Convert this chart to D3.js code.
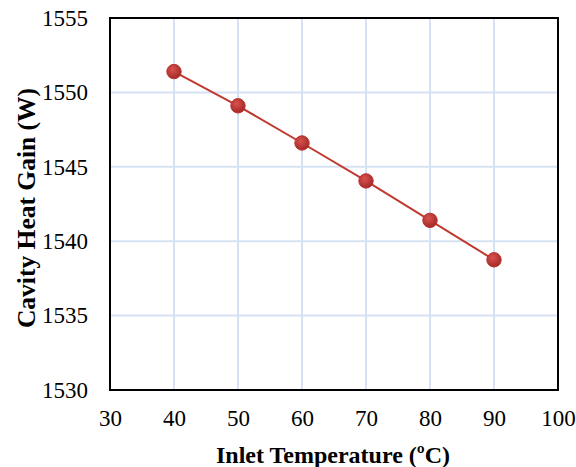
<!DOCTYPE html>
<html>
<head>
<meta charset="utf-8">
<script src="https://cdn.jsdelivr.net/npm/d3@7"></script>
<style>
  body { margin: 0; background: #fff; }
  svg { display: block; }
  text { font-family: 'Liberation Serif', 'Times New Roman', serif; fill: #000; }
</style>
</head>
<body>
<script>
// data
var temps = [40, 50, 60, 70, 80, 90];
var heatGain = [1551.4, 1549.1, 1546.6, 1544.05, 1541.4, 1538.75];
var xTicks = [30, 40, 50, 60, 70, 80, 90, 100];
var yTicks = [1530, 1535, 1540, 1545, 1550, 1555];

var W = 576, H = 467;
var m = {left: 110, right: 18, top: 18, bottom: 77};

var svg = d3.select('body').append('svg').attr('width', W).attr('height', H);

var x = d3.scaleLinear().domain([30, 100]).range([m.left, W - m.right]);
var y = d3.scaleLinear().domain([1530, 1555]).range([H - m.bottom, m.top]);

var defs = svg.append('defs');
var grad = defs.append('radialGradient').attr('id', 'dot').attr('cx', '40%').attr('cy', '35%').attr('r', '65%');
grad.append('stop').attr('offset', '0%').attr('stop-color', '#d9514e');
grad.append('stop').attr('offset', '100%').attr('stop-color', '#a32a27');

// gridlines
svg.append('g').selectAll('line').data(xTicks).enter().append('line')
    .attr('x1', function(d){ return x(d); }).attr('x2', function(d){ return x(d); })
    .attr('y1', m.top).attr('y2', H - m.bottom)
    .attr('stroke', '#d6e2f3').attr('stroke-width', 2);
svg.append('g').selectAll('line').data(yTicks).enter().append('line')
    .attr('x1', m.left).attr('x2', W - m.right)
    .attr('y1', function(d){ return y(d); }).attr('y2', function(d){ return y(d); })
    .attr('stroke', '#d6e2f3').attr('stroke-width', 2);

// frame
svg.append('rect').attr('x', m.left).attr('y', m.top)
    .attr('width', W - m.left - m.right).attr('height', H - m.top - m.bottom)
    .attr('fill', 'none').attr('stroke', '#000').attr('stroke-width', 2);

// axes (labels only)
var xAxis = svg.append('g').attr('transform', 'translate(0,' + (H - m.bottom) + ')')
    .call(d3.axisBottom(x).tickValues(xTicks).tickFormat(d3.format('d')).tickSize(0).tickPadding(20));
var yAxis = svg.append('g').attr('transform', 'translate(' + m.left + ',0)')
    .call(d3.axisLeft(y).tickValues(yTicks).tickFormat(d3.format('d')).tickSize(0).tickPadding(22));
[xAxis, yAxis].forEach(function(a){
    a.attr('font-family', null).attr('font-size', null);
    a.select('.domain').remove();
    a.selectAll('text').style('font-size', '23px').attr('fill', '#000');
});

// line + markers
var pts = temps.map(function(t, i){ return [t, heatGain[i]]; });
svg.append('path').datum(pts)
    .attr('d', d3.line().x(function(d){ return x(d[0]); }).y(function(d){ return y(d[1]); }))
    .attr('fill', 'none').attr('stroke', '#c0392f').attr('stroke-width', 2);
svg.append('g').selectAll('circle').data(pts).enter().append('circle')
    .attr('cx', function(d){ return x(d[0]); }).attr('cy', function(d){ return y(d[1]); })
    .attr('r', 7.2).attr('fill', 'url(#dot)').attr('stroke', '#b8312d').attr('stroke-width', 1);

// titles
svg.append('text').attr('x', 333).attr('y', 463)
    .attr('text-anchor', 'middle').style('font-size', '24px').style('font-weight', 'bold')
    .text('Inlet Temperature (ºC)');
svg.append('text').attr('transform', 'translate(35,208) rotate(-90)')
    .attr('text-anchor', 'middle').style('font-size', '25.5px').style('font-weight', 'bold')
    .text('Cavity Heat Gain (W)');
</script>
</body>
</html>
